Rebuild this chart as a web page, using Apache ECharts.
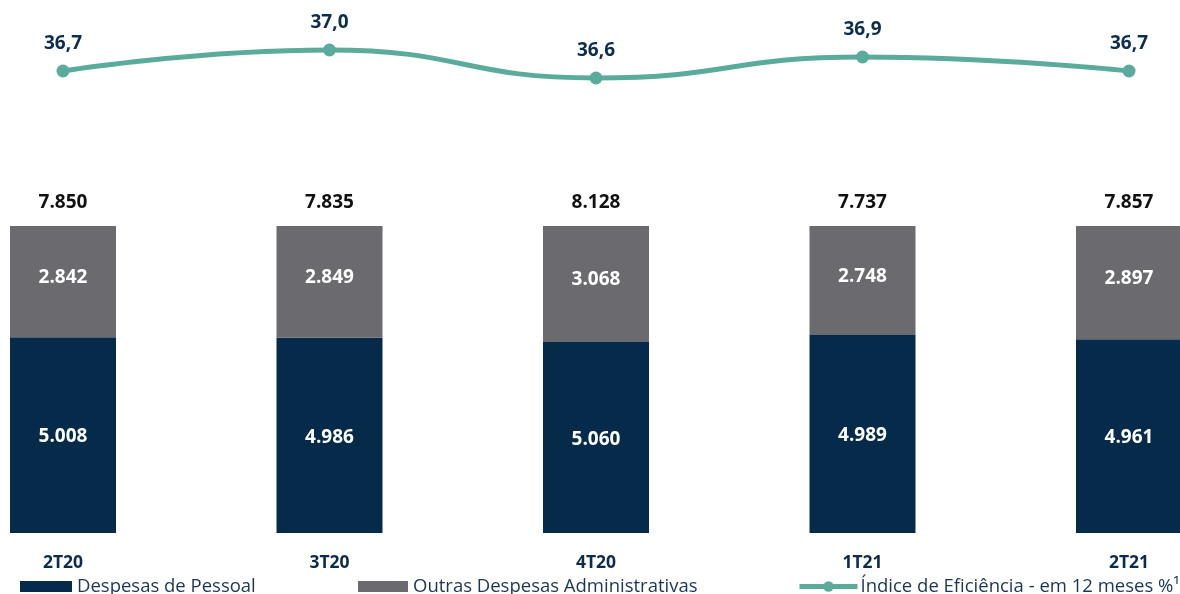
<!DOCTYPE html>
<html>
<head>
<meta charset="utf-8">
<script src="https://cdn.jsdelivr.net/npm/echarts@6/dist/echarts.min.js"></script>
<style>
html,body{margin:0;padding:0;background:#fff;}
#chart{width:1180px;height:594px;}
</style>
</head>
<body>
<div id="chart"></div>
<script>
const categories = ['2T20', '3T20', '4T20', '1T21', '2T21'];
const pessoal = [5008, 4986, 5060, 4989, 4961];
const outras = [2842, 2849, 3068, 2748, 2897];
const totais = [7850, 7835, 8128, 7737, 7857];
const eficiencia = [36.7, 37.0, 36.6, 36.9, 36.7];

const fmtInt = v => String(v).replace(/\B(?=(\d{3})+(?!\d))/g, '.');
const fmtDec = v => v.toFixed(1).replace('.', ',');

const NAVY = '#062a4a';
const GRAY = '#6b6a6f';
const TEAL = '#5aab9b';
const FONT = '"Open Sans", "Noto Sans", sans-serif';

const sums = pessoal.map((v, i) => v + outras[i]);
const pessoalPct = pessoal.map((v, i) => v / sums[i] * 100);
const outrasPct = outras.map((v, i) => v / sums[i] * 100);
const topPct = categories.map(() => 100);

const legendText = {fontFamily: FONT, fontSize: 18.5, color: '#1b3553'};

const chart = echarts.init(document.getElementById('chart'), null, {renderer: 'canvas'});
chart.setOption({
  animation: false,
  textStyle: {fontFamily: FONT},
  legend: [
    {left: 20, top: 577, padding: 0, itemWidth: 52, itemHeight: 11, icon: 'rect', data: ['Despesas de Pessoal'],
     textStyle: Object.assign({padding: [0,0,0,0]}, legendText)},
    {left: 358, top: 577, padding: 0, itemWidth: 50, itemHeight: 11, icon: 'rect', data: ['Outras Despesas Administrativas'],
     textStyle: Object.assign({padding: [0,0,0,0]}, legendText)},
    {left: 797, top: 577, padding: 0, itemWidth: 58, itemHeight: 13, data: ['Índice de Eficiência - em 12 meses %¹'],
     lineStyle: {width: 5},
     textStyle: Object.assign({padding: [0,0,0,-2]}, legendText)}
  ],
  grid: [
    {left: 63, right: 51, top: 226, bottom: 61},
    {left: 63, right: 51, top: 36, height: 70}
  ],
  xAxis: [
    {type: 'category', gridIndex: 0, data: categories, boundaryGap: false,
     axisLine: {show: false}, axisTick: {show: false},
     axisLabel: {margin: 21, fontFamily: FONT, fontSize: 17.5, fontWeight: 'bold', color: '#0d2b4a'}},
    {type: 'category', gridIndex: 1, data: categories, boundaryGap: false, show: false}
  ],
  yAxis: [
    {type: 'value', gridIndex: 0, min: 0, max: 100, show: false},
    {type: 'value', gridIndex: 1, min: 36.2, max: 37.2, show: false}
  ],
  series: [
    {name: 'Despesas de Pessoal', type: 'bar', stack: 'a', xAxisIndex: 0, yAxisIndex: 0,
     data: pessoalPct, barWidth: 106, clip: false,
     itemStyle: {color: NAVY},
     label: {show: true, position: 'inside', offset: [0, 2], color: '#fff', fontFamily: FONT, fontSize: 19, fontWeight: 'bold',
             formatter: p => fmtInt(pessoal[p.dataIndex])}},
    {name: 'Outras Despesas Administrativas', type: 'bar', stack: 'a', xAxisIndex: 0, yAxisIndex: 0,
     data: outrasPct, barWidth: 106, clip: false,
     itemStyle: {color: GRAY},
     label: {show: true, position: 'inside', offset: [0, -4], color: '#fff', fontFamily: FONT, fontSize: 19, fontWeight: 'bold',
             formatter: p => fmtInt(outras[p.dataIndex])}},
    {name: 'total', type: 'line', xAxisIndex: 0, yAxisIndex: 0, data: topPct,
     symbol: 'circle', symbolSize: 1, showSymbol: true, itemStyle: {color: 'rgba(0,0,0,0)'},
     lineStyle: {opacity: 0}, silent: true, clip: false,
     label: {show: true, position: 'top', distance: 13, color: '#111', fontFamily: FONT, fontSize: 19, fontWeight: 'bold',
             formatter: p => fmtInt(totais[p.dataIndex])}},
    {name: 'Índice de Eficiência - em 12 meses %¹', type: 'line', xAxisIndex: 1, yAxisIndex: 1,
     data: eficiencia, smooth: 0.5, symbol: 'circle', symbolSize: 13, clip: false,
     lineStyle: {color: TEAL, width: 5}, itemStyle: {color: TEAL},
     label: {show: true, position: 'top', distance: 11, color: '#0d2d4d', fontFamily: FONT, fontSize: 19, fontWeight: 'bold',
             formatter: p => fmtDec(eficiencia[p.dataIndex])}}
  ]
});
</script>
</body>
</html>
